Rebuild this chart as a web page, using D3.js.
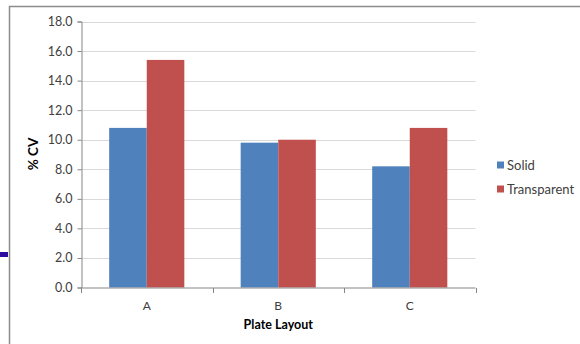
<!DOCTYPE html>
<html>
<head>
<meta charset="utf-8">
<script src="https://cdn.jsdelivr.net/npm/d3@7"></script>
<style>
  html, body { margin: 0; padding: 0; background: #fff; }
  svg { display: block; font-family: Lato, "Open Sans", sans-serif; }
</style>
</head>
<body>
<svg id="chart" width="580" height="344"></svg>
<script>
// % CV by plate layout, solid vs transparent plates
const categories = ["A", "B", "C"];
const seriesNames = ["Solid", "Transparent"];
const solidValues = [10.8, 9.8, 8.2];
const transparentValues = [15.4, 10.0, 10.8];
const yTickValues = [0, 2, 4, 6, 8, 10, 12, 14, 16, 18];
const seriesColors = ["#4F81BD", "#C0504D"];

const svg = d3.select("#chart");
const W = 580, H = 344;
const plot = { left: 81, right: 475.5, top: 21.5, bottom: 287.5 };

// slide frame and the small marker on its left edge
svg.append("path")
  .attr("d", `M9.5,${H} V6.5 H${W}`)
  .attr("fill", "none").attr("stroke", "#8c8c8c").attr("stroke-width", 1.5);
svg.append("rect")
  .attr("x", 0).attr("y", 252).attr("width", 8).attr("height", 5)
  .attr("fill", "#2E0A9E");

const x0 = d3.scaleBand().domain(categories)
  .range([plot.left, plot.right]).paddingInner(0).paddingOuter(0);
// gap width of 150% of a bar: 2 bars + 1.5 gap per category
const barW = x0.bandwidth() / 3.5;
const groupOffset = (x0.bandwidth() - 2 * barW) / 2;

const y = d3.scaleLinear().domain([0, 18]).range([plot.bottom, plot.top]);

// gridlines
svg.append("g")
  .selectAll("line").data(yTickValues.filter(d => d > 0)).join("line")
  .attr("x1", plot.left).attr("x2", plot.right)
  .attr("y1", d => Math.round(y(d)) + 0.5).attr("y2", d => Math.round(y(d)) + 0.5)
  .attr("stroke", "#d9d9d9").attr("stroke-width", 1);

// bars
const rows = categories.map((c, i) => ({ cat: c, vals: [solidValues[i], transparentValues[i]] }));
const groups = svg.append("g").selectAll("g").data(rows).join("g")
  .attr("transform", d => `translate(${x0(d.cat) + groupOffset},0)`);
groups.selectAll("rect").data(d => d.vals.map((v, j) => ({ v, j }))).join("rect")
  .attr("x", d => d.j * barW)
  .attr("width", barW)
  .attr("y", d => y(d.v))
  .attr("height", d => y(0) - y(d.v))
  .attr("fill", d => seriesColors[d.j]);

// y axis
const yAxis = svg.append("g")
  .attr("transform", `translate(${plot.left + 0.5},0)`)
  .call(d3.axisLeft(y).tickValues(yTickValues).tickFormat(d3.format(".1f")).tickSize(4).tickPadding(5));
yAxis.select(".domain").attr("stroke", "#868686");
yAxis.selectAll(".tick line").attr("stroke", "#868686");
yAxis.selectAll(".tick text").attr("fill", "#404040")
  .style("font-size", "12.5px").style("font-family", "Lato, sans-serif");

// x axis with ticks at category boundaries
const xAxisG = svg.append("g").attr("transform", `translate(0,${plot.bottom + 0.5})`);
xAxisG.append("line").attr("x1", plot.left).attr("x2", plot.right)
  .attr("stroke", "#868686");
const boundaries = categories.map(c => x0(c)).concat([plot.right]);
xAxisG.selectAll("line.tk").data(boundaries).join("line").attr("class", "tk")
  .attr("x1", d => Math.round(d) + 0.5).attr("x2", d => Math.round(d) + 0.5)
  .attr("y1", 0).attr("y2", 5).attr("stroke", "#868686");
xAxisG.selectAll("text").data(categories).join("text")
  .attr("x", d => x0(d) + x0.bandwidth() / 2)
  .attr("y", 21.5)
  .attr("text-anchor", "middle")
  .attr("fill", "#404040").style("font-size", "12px")
  .text(d => d);

// axis titles
svg.append("text")
  .attr("x", (plot.left + plot.right) / 2).attr("y", 329)
  .attr("text-anchor", "middle").attr("font-weight", "bold")
  .attr("fill", "#000").style("font-size", "12.5px")
  .text("Plate Layout");
svg.append("text")
  .attr("transform", `translate(38,154) rotate(-90)`)
  .attr("text-anchor", "middle").attr("font-weight", "bold")
  .attr("fill", "#000").style("font-size", "13.5px")
  .text("% CV");

// legend
const legend = svg.append("g").selectAll("g").data(seriesNames).join("g")
  .attr("transform", (d, i) => `translate(497,${165 + i * 24})`);
legend.append("rect").attr("x", 0).attr("y", -3.5).attr("width", 7).attr("height", 7)
  .attr("fill", (d, i) => seriesColors[i]);
legend.append("text").attr("x", 10).attr("y", 4.5)
  .attr("fill", "#404040").style("font-size", "13px")
  .text(d => d);
</script>
</body>
</html>
